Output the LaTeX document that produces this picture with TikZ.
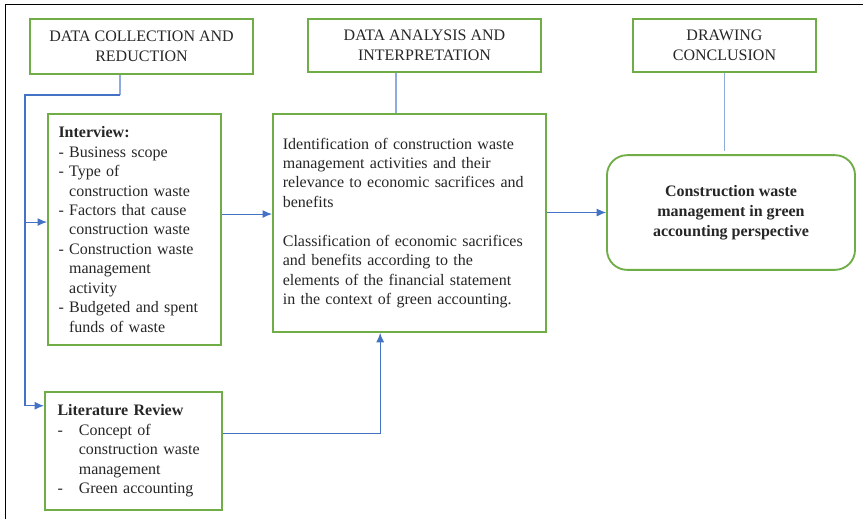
\documentclass[tikz,border=0pt]{standalone}
\usepackage{fontspec}
\setmainfont{Liberation Serif}
\usetikzlibrary{arrows.meta,calc}
\definecolor{boxgreen}{HTML}{70AD47}
\definecolor{linkblue}{HTML}{4472C4}
\definecolor{stubblue}{HTML}{8FAADC}

\begin{document}
\begin{tikzpicture}[x=0.75pt, y=-0.75pt, >={Latex[length=7pt,width=6pt]},
    box/.style={draw=boxgreen, line width=1.4pt, inner sep=0pt, text=black!85,
        font=\fontsize{12}{14.6}\selectfont},
    head/.style={box, align=center, minimum height=40pt},
    flow/.style={->, linkblue, line width=0.8pt},
    stub/.style={stubblue, line width=0.8pt}]
    \useasboundingbox (0,0) rectangle (863,519);
    \draw[line width=1pt] (5.5,519) -- (5.5,4.5) -- (863,4.5);

    % stage headers
    \node[head, minimum width=167pt, minimum height=41pt] (collect) at (141.5,46.5) {DATA COLLECTION AND\\REDUCTION};
    \node[head, minimum width=175pt] (analysis) at (424.5,45.5) {DATA ANALYSIS AND\\INTERPRETATION};
    \node[head, minimum width=137pt] (conclude) at (724.5,45.5) {DRAWING\\CONCLUSION};

    % content boxes
    \node[box, align=left, text width=114pt, minimum width=130pt, minimum height=173pt] (interview) at (134.5,229.5) {%
        \textbf{Interview:}\\
        - Business scope\\
        - Type of\\
        \hphantom{- }construction waste\\
        - Factors that cause\\
        \hphantom{- }construction waste\\
        - Construction waste\\
        \hphantom{- }management\\
        \hphantom{- }activity\\
        - Budgeted and spent\\
        \hphantom{- }funds of waste};
    \node[box, align=left, text width=114pt, minimum width=133pt, minimum height=88.5pt] (lit) at (133.5,451) {%
        \textbf{Literature Review}\\
        \makebox[16pt][l]{-}Concept of\\
        \hspace*{16pt}construction waste\\
        \hspace*{16pt}management\\
        \makebox[16pt][l]{-}Green accounting};
    \node[box, align=left, text width=190pt, minimum width=205pt, minimum height=163.5pt] (mid) at (409.5,223) {%
        Identification of construction waste\\
        management activities and their\\
        relevance to economic sacrifices and\\
        benefits\\[14.6pt]
        Classification of economic sacrifices\\
        and benefits according to the\\
        elements of the financial statement\\
        in the context of green accounting.};
    \node[box, rounded corners=15pt, align=center, minimum width=186pt, minimum height=86pt,
        font=\fontsize{12}{15.2}\selectfont\bfseries] (result) at (731,212.5) {%
        Construction waste\\management in green\\accounting perspective};

    % connectors
    \coordinate (dc) at (120,95);
    \coordinate (dl) at (25,95);
    \coordinate (iw) at ([yshift=5.6pt]interview.west);
    \coordinate (ie) at ([yshift=11.6pt]interview.east);
    \coordinate (le) at ([yshift=12.8pt]lit.east);
    \coordinate (as) at ([xshift=-21.4pt]analysis.south);

    \draw[stub] (collect.south -| dc) -- (dc);
    \draw[flow] (dc) -- (dl) |- ([yshift=-11pt]lit.north west);
    \draw[flow] (dl |- iw) -- (iw);
    \draw[flow] (ie) -- (ie -| mid.west);
    \draw[flow] (le) -| ([xshift=-22pt]mid.south);
    \draw[stub] (as) -- (as |- mid.north);
    \draw[flow] (mid.east |- result.west) -- (result.west);
    \draw[stub] (conclude.south) -- ($(conclude.south |- result.north)+(0,-3)$);
\end{tikzpicture}
\end{document}
